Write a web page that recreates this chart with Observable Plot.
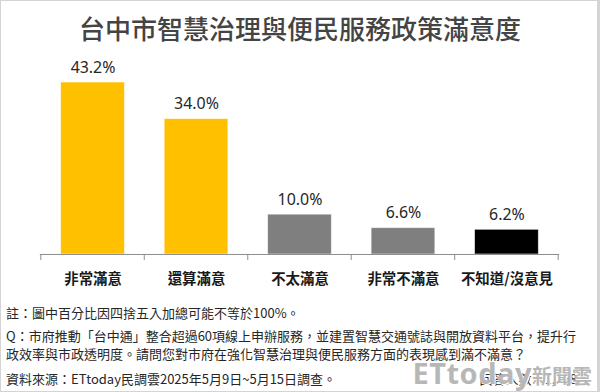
<!DOCTYPE html>
<html>
<head>
<meta charset="utf-8">
<script src="https://cdn.jsdelivr.net/npm/d3@7"></script>
<script src="https://cdn.jsdelivr.net/npm/@observablehq/plot@0.6"></script>
<style>
  html, body { margin: 0; padding: 0; background: #fff; }
  #frame { position: relative; width: 600px; height: 392px; box-sizing: border-box; border: 1px solid #d4d4d4; border-right-width: 3px; overflow: hidden; font-family: "Noto Sans CJK TC", "Noto Sans", sans-serif; }
  .abs { position: absolute; white-space: nowrap; line-height: 1; }
  #title { left: 299px; top: 14px; transform: translateX(-50%); font-size: 26px; font-weight: 500; color: #444444; }
  #chart { position: absolute; left: -1px; top: 51px; }
  .note { font-size: 13px; color: #262626; left: 5px; }
  #wm { right: 5px; top: 357px; color: rgba(170,170,170,0.85); text-shadow: 0 0 2px #fff, 1px 1px 0 #fff; font-family: "Noto Sans", sans-serif; }
  #wm .big { font-size: 29px; font-weight: 700; letter-spacing: 0.5px; }
  #wm .cjk { font-size: 20px; font-weight: 700; font-family: "Noto Sans CJK TC", sans-serif; }
</style>
</head>
<body>
<div id="frame">
  <div id="title" class="abs">台中市智慧治理與便民服務政策滿意度</div>
  <div id="chart"></div>
  <div class="abs note" style="top:305px">註：圖中百分比因四捨五入加總可能不等於100%。</div>
  <div class="abs note" style="top:328px">Q：市府推動「台中通」整合超過60項線上申辦服務，並建置智慧交通號誌與開放資料平台，提升行</div>
  <div class="abs note" style="top:346px">政效率與市政透明度。請問您對市府在強化智慧治理與便民服務方面的表現感到滿不滿意？</div>
  <div class="abs note" style="top:371px">資料來源：ETtoday民調雲2025年5月9日~5月15日調查。</div>
  <div class="abs note" style="top:371px; left:auto; right:7px">回答人數：1,298人</div>
  <div id="wm" class="abs"><span class="big">ETtoday</span><span class="cjk">新聞雲</span></div>
</div>
<script>
const categories = ["非常滿意", "還算滿意", "不太滿意", "非常不滿意", "不知道/沒意見"];
const values = [43.2, 34.0, 10.0, 6.6, 6.2];
const colors = ["#FFC000", "#FFC000", "#7F7F7F", "#7F7F7F", "#000000"];
const labels = ["43.2%", "34.0%", "10.0%", "6.6%", "6.2%"];

const data = categories.map((c, i) => ({cat: c, value: values[i], color: colors[i], label: labels[i]}));

const plot = Plot.plot({
  width: 600,
  height: 243,
  marginLeft: 40,
  marginRight: 38,
  marginTop: 3,
  marginBottom: 40,
  style: {fontFamily: "'Noto Sans CJK TC', 'Noto Sans', sans-serif", background: "transparent", overflow: "visible"},
  x: {domain: categories, paddingInner: 0.38, paddingOuter: 0.19, label: null},
  y: {domain: [0, 50], axis: null},
  marks: [
    Plot.barY(data, {x: "cat", y: "value", fill: "color", stroke: "#ffffff", strokeOpacity: 0.6, strokeWidth: 0.8}),
    Plot.ruleY([0], {stroke: "#8c8c8c", strokeWidth: 1}),
    Plot.text(data, {x: "cat", y: "value", text: "label", lineAnchor: "bottom", dy: -10, fontSize: 16, fill: "#262626", fontFamily: "'Noto Sans', sans-serif"}),
    Plot.axisX({tickSize: 0, tickPadding: 19.5, fontSize: 14.5, fontWeight: "bold", color: "#1a1a1a", label: null})
  ]
});

document.getElementById("chart").appendChild(plot);

// tick marks at band boundaries, positioned from the plot's own scales
const xs = plot.scale("x");
const ys = plot.scale("y");
const gap = (xs.step - xs.bandwidth) / 2;
const y0 = ys.apply(0);
const bounds = categories.map(c => xs.apply(c) - gap);
bounds.push(xs.apply(categories[categories.length - 1]) + xs.bandwidth + gap);
const svg = d3.select(plot.tagName.toLowerCase() === "svg" ? plot : plot.querySelector("svg"));
svg.append("g").selectAll("line").data(bounds).join("line")
  .attr("x1", d => d).attr("x2", d => d)
  .attr("y1", y0).attr("y2", y0 + 6)
  .attr("stroke", "#8c8c8c").attr("stroke-width", 1);
</script>
</body>
</html>
